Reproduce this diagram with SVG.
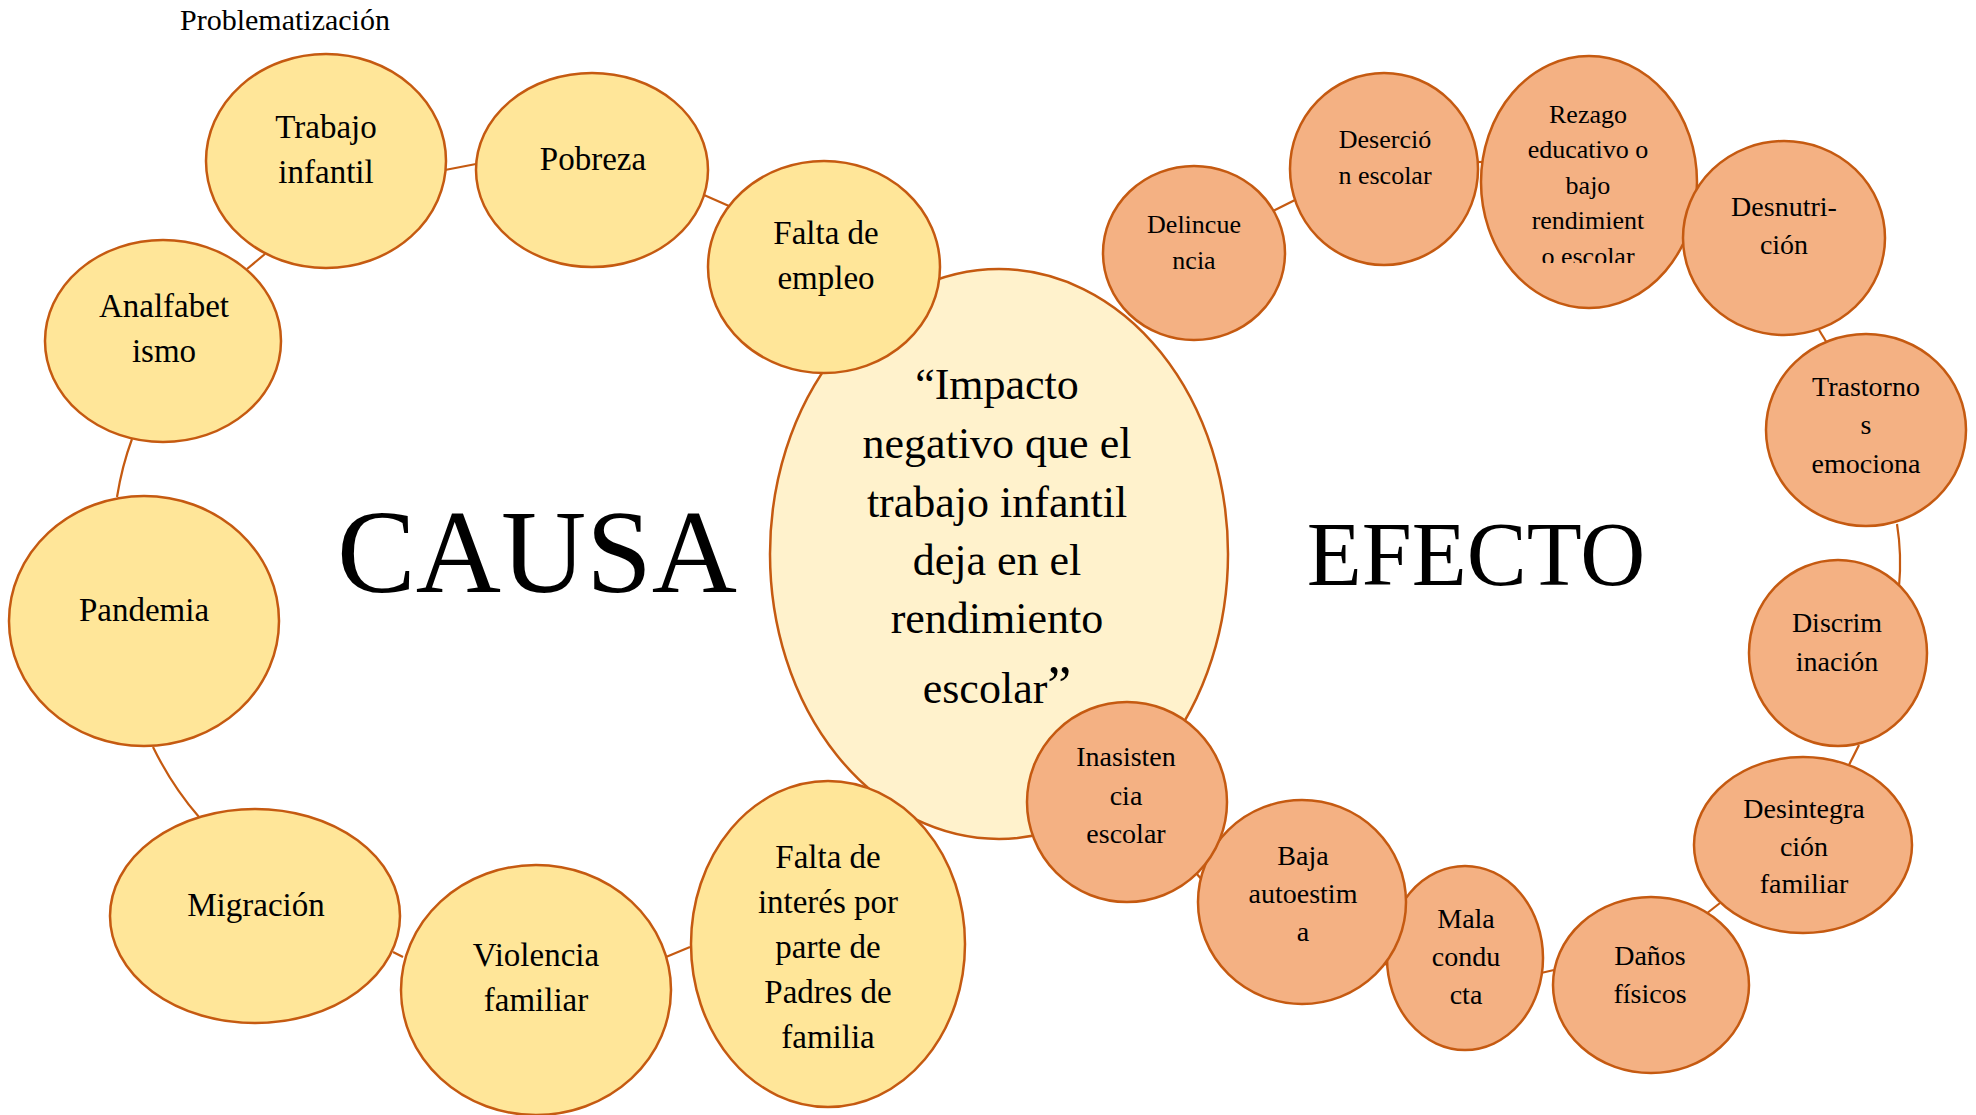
<svg xmlns="http://www.w3.org/2000/svg" width="1976" height="1115" viewBox="0 0 1976 1115">
<style>
.c{fill:#FFE699;stroke:#C55A11;stroke-width:2.5}
.m{fill:#FFF2CC;stroke:#C55A11;stroke-width:2.5}
.e{fill:#F4B183;stroke:#C55A11;stroke-width:2.5}
.ln{fill:none;stroke:#C55A11;stroke-width:2.2}
text{font-family:"Liberation Serif","Times New Roman",serif;fill:#000;text-anchor:middle}
.tc{font-size:33px}
.te{font-size:28px}
.ts{font-size:26px}
.tm{font-size:44px}
</style>
<defs>
<clipPath id="clipRezago"><rect x="1480" y="60" width="220" height="203"/></clipPath>
</defs>
<rect width="1976" height="1115" fill="#fff"/>
<text x="285" y="30" style="font-size:30px">Problematización</text>
<g id="connectors">
<line class="ln" x1="445" y1="170" x2="476" y2="164"/>
<line class="ln" x1="704" y1="195" x2="729" y2="206"/>
<line class="ln" x1="265" y1="254" x2="247" y2="269"/>
<path class="ln" d="M132,439 Q122,466 117,497"/>
<path class="ln" d="M153,747 Q172,786 199,817"/>
<line class="ln" x1="393" y1="952" x2="403" y2="957"/>
<line class="ln" x1="666" y1="957" x2="690" y2="947"/>
<line class="ln" x1="1273" y1="211" x2="1297" y2="199"/>
<line class="ln" x1="1476" y1="162" x2="1484" y2="162"/>
<line class="ln" x1="1819" y1="330" x2="1827" y2="343"/>
<path class="ln" d="M1897,524 Q1902,555 1899,587"/>
<line class="ln" x1="1859" y1="745" x2="1849" y2="765"/>
<line class="ln" x1="1720" y1="903" x2="1706" y2="914"/>
<line class="ln" x1="1554" y1="970" x2="1541" y2="973"/>
<line class="ln" x1="1385" y1="964" x2="1390" y2="966"/>
<line class="ln" x1="1196" y1="873" x2="1203" y2="881"/>
</g>
<g id="n-trabajo"><ellipse class="c" cx="326" cy="161" rx="120" ry="107"/><text class="tc" x="326"><tspan x="326" y="138">Trabajo</tspan><tspan x="326" y="183">infantil</tspan></text></g>
<g id="n-pobreza"><ellipse class="c" cx="592" cy="170" rx="116" ry="97"/><text class="tc" x="593" y="170">Pobreza</text></g>
<g id="n-analfabetismo"><ellipse class="c" cx="163" cy="341" rx="118" ry="101"/><text class="tc"><tspan x="164" y="317">Analfabet</tspan><tspan x="164" y="362">ismo</tspan></text></g>
<g id="n-pandemia"><ellipse class="c" cx="144" cy="621" rx="135" ry="125"/><text class="tc" x="144" y="621">Pandemia</text></g>
<g id="n-migracion"><ellipse class="c" cx="255" cy="916" rx="145" ry="107"/><text class="tc" x="256" y="916">Migración</text></g>
<g id="n-violencia"><ellipse class="c" cx="536" cy="990" rx="135" ry="125"/><text class="tc"><tspan x="536" y="966">Violencia</tspan><tspan x="536" y="1011">familiar</tspan></text></g>
<g id="n-centro"><ellipse class="m" cx="999" cy="554" rx="229" ry="285"/><text class="tm"><tspan x="997" y="399">“Impacto</tspan><tspan x="997" y="458">negativo que el</tspan><tspan x="997" y="517">trabajo infantil</tspan><tspan x="997" y="575">deja en el</tspan><tspan x="997" y="633">rendimiento</tspan><tspan x="997" y="703">escolar<tspan style="font-size:54px">”</tspan></tspan></text></g>
<g id="n-empleo"><ellipse class="c" cx="824" cy="267" rx="116" ry="106"/><text class="tc"><tspan x="826" y="244">Falta de</tspan><tspan x="826" y="289">empleo</tspan></text></g>
<g id="n-interes"><ellipse class="c" cx="828" cy="944" rx="137" ry="163"/><text class="tc"><tspan x="828" y="868">Falta de</tspan><tspan x="828" y="913">interés por</tspan><tspan x="828" y="958">parte de</tspan><tspan x="828" y="1003">Padres de</tspan><tspan x="828" y="1048">familia</tspan></text></g>
<text x="537" y="592" style="font-size:118px">CAUSA</text>
<text x="1476" y="585" style="font-size:90px">EFECTO</text>
<g id="n-delincuencia"><ellipse class="e" cx="1194" cy="253" rx="91" ry="87"/><text class="ts"><tspan x="1194" y="233">Delincue</tspan><tspan x="1194" y="269">ncia</tspan></text></g>
<g id="n-desercion"><ellipse class="e" cx="1384" cy="169" rx="94" ry="96"/><text class="ts"><tspan x="1385" y="148">Deserció</tspan><tspan x="1385" y="184">n escolar</tspan></text></g>
<g id="n-rezago"><ellipse class="e" cx="1589" cy="182" rx="108" ry="126"/><text class="ts" clip-path="url(#clipRezago)"><tspan x="1588" y="123">Rezago</tspan><tspan x="1588" y="158">educativo o</tspan><tspan x="1588" y="194">bajo</tspan><tspan x="1588" y="229">rendimient</tspan><tspan x="1588" y="265">o escolar</tspan></text></g>
<g id="n-desnutricion"><ellipse class="e" cx="1784" cy="238" rx="101" ry="97"/><text class="te"><tspan x="1784" y="216">Desnutri-</tspan><tspan x="1784" y="254">ción</tspan></text></g>
<g id="n-trastornos"><ellipse class="e" cx="1866" cy="430" rx="100" ry="96"/><text class="te"><tspan x="1866" y="396">Trastorno</tspan><tspan x="1866" y="434">s</tspan><tspan x="1866" y="473">emociona</tspan></text></g>
<g id="n-discriminacion"><ellipse class="e" cx="1838" cy="653" rx="89" ry="93"/><text class="te"><tspan x="1837" y="632">Discrim</tspan><tspan x="1837" y="671">inación</tspan></text></g>
<g id="n-desintegracion"><ellipse class="e" cx="1803" cy="845" rx="109" ry="88"/><text class="te"><tspan x="1804" y="818">Desintegra</tspan><tspan x="1804" y="856">ción</tspan><tspan x="1804" y="893">familiar</tspan></text></g>
<g id="n-danos"><ellipse class="e" cx="1651" cy="985" rx="98" ry="88"/><text class="te"><tspan x="1650" y="965">Daños</tspan><tspan x="1650" y="1003">físicos</tspan></text></g>
<g id="n-mala"><ellipse class="e" cx="1465" cy="958" rx="78" ry="92"/><text class="te"><tspan x="1466" y="928">Mala</tspan><tspan x="1466" y="966">condu</tspan><tspan x="1466" y="1004">cta</tspan></text></g>
<g id="n-baja"><ellipse class="e" cx="1302" cy="902" rx="104" ry="102"/><text class="te"><tspan x="1303" y="865">Baja</tspan><tspan x="1303" y="903">autoestim</tspan><tspan x="1303" y="941">a</tspan></text></g>
<g id="n-inasistencia"><ellipse class="e" cx="1127" cy="802" rx="100" ry="100"/><text class="te"><tspan x="1126" y="766">Inasisten</tspan><tspan x="1126" y="805">cia</tspan><tspan x="1126" y="843">escolar</tspan></text></g>
</svg>
